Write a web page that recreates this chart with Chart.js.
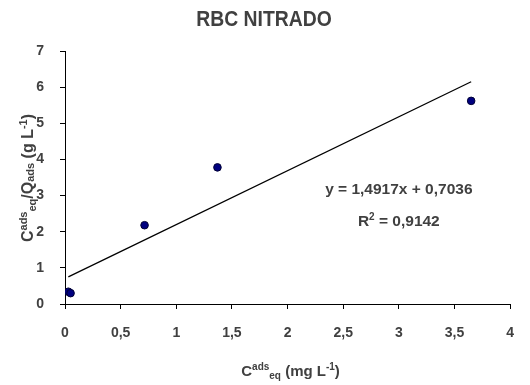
<!DOCTYPE html>
<html>
<head>
<meta charset="utf-8">
<script src="https://cdn.jsdelivr.net/npm/chart.js@4/dist/chart.umd.min.js"></script>
<style>
  body { margin: 0; background: #fff; }
  #box { width: 530px; height: 385px; }
</style>
</head>
<body>
<div id="box"><canvas id="grafico" width="530" height="385"></canvas></div>
<script>
  // dados
  const cEq = [0.03, 0.05, 0.715, 1.37, 3.65];
  const razaoCQ = [0.34, 0.30, 2.18, 3.78, 5.62];
  const xTicks = [0, 0.5, 1, 1.5, 2, 2.5, 3, 3.5, 4];
  const yTicks = [0, 1, 2, 3, 4, 5, 6, 7];
  // linha de tendencia (equacao do grafico)
  const inclinacao = 1.4917;
  const intercepto = 0.7036;
  const r2 = 0.9142;

  const corTexto = '#404040';
  const fonte = '"Liberation Sans", Arial, sans-serif';
  const virgula = v => String(v).replace('.', ',');

  const xMin = Math.min(...cEq), xMax = Math.max(...cEq);
  const tendencia = [
    { x: xMin, y: inclinacao * xMin + intercepto },
    { x: xMax, y: inclinacao * xMax + intercepto }
  ];

  /* desenha texto com sobrescrito / subscrito: partes = [texto, tamanho, deslocamento] */
  function textoRico(ctx, partes, x, y, rot, sx) {
    let larg = 0;
    partes.forEach(p => {
      ctx.font = 'bold ' + p[1] + 'px ' + fonte;
      larg += ctx.measureText(p[0]).width;
    });
    ctx.save();
    ctx.translate(x, y);
    if (rot) ctx.rotate(rot);
    ctx.scale(sx || 1, 1);
    ctx.fillStyle = corTexto;
    ctx.textAlign = 'left';
    ctx.textBaseline = 'alphabetic';
    let cx = -larg / 2;
    partes.forEach(p => {
      ctx.font = 'bold ' + p[1] + 'px ' + fonte;
      ctx.fillText(p[0], cx, p[2]);
      cx += ctx.measureText(p[0]).width;
    });
    ctx.restore();
  }

  const textos = {
    id: 'textos',
    afterDraw(chart) {
      const ctx = chart.ctx;
      const xs = chart.scales.x, ys = chart.scales.y;
      // titulo
      textoRico(ctx, [['RBC NITRADO', 22, 0]], 264, 26, 0, 0.88);
      // titulo eixo x
      textoRico(ctx, [['C', 15, 0], ['ads', 10, -6], ['eq', 10, 3], [' (mg L', 15, 0], ['-1', 10, -6], [')', 15, 0]],
        (xs.left + xs.right) / 2 + 3, 376);
      // titulo eixo y
      textoRico(ctx, [['C', 16, 0], ['ads', 11, -6], ['eq', 11, 3], ['/Q', 16, 0], ['ads', 11, 1], [' (g L', 16, 0], ['-1', 11, -6], [')', 16, 0]],
        33, 178, -Math.PI / 2);
      // equacao
      const ex = xs.getPixelForValue(3.0);
      textoRico(ctx, [['y = ' + virgula(inclinacao) + 'x + ' + virgula(intercepto), 15.5, 0]], ex, ys.getPixelForValue(3.04));
      textoRico(ctx, [['R', 15.5, 0], ['2', 10, -6], [' = ' + virgula(r2), 15.5, 0]], ex, ys.getPixelForValue(2.155));
    }
  };

  const eixo = (ticks, padding) => ({
    type: 'linear',
    min: ticks[0],
    max: ticks[ticks.length - 1],
    afterBuildTicks: s => { s.ticks = ticks.map(v => ({ value: v })); },
    border: { display: true, color: '#000', width: 1 },
    grid: { display: true, drawOnChartArea: false, drawTicks: true, tickLength: 5, color: '#000' },
    ticks: {
      padding: padding,
      color: corTexto,
      font: { family: fonte, size: 14, weight: 'bold' },
      callback: v => virgula(v),
      autoSkip: false,
      maxRotation: 0
    }
  });

  document.addEventListener('DOMContentLoaded', () => {
    const ctx = document.getElementById('grafico').getContext('2d');
    const escX = eixo(xTicks, 16);
    escX.position = 'bottom';
    escX.afterFit = s => { s.height = 81; };
    const escY = eixo(yTicks, 16);
    escY.position = 'left';
    escY.afterFit = s => { s.width = 65; };

    new Chart(ctx, {
      type: 'scatter',
      data: {
        datasets: [{
            label: 'RBC nitrado',
            data: cEq.map((x, i) => ({ x: x, y: razaoCQ[i] })),
            backgroundColor: '#000080',
            borderColor: '#000033',
            borderWidth: 1,
            pointRadius: 3.8
          },
          {
            label: 'Linear',
            data: tendencia,
            showLine: true,
            borderColor: '#000',
            borderWidth: 1.3,
            pointRadius: 0
          }
        ]
      },
      options: {
        responsive: false,
        devicePixelRatio: 1,
        animation: false,
        layout: { padding: { top: 51, right: 17, left: 0, bottom: 0 } },
        scales: { x: escX, y: escY },
        plugins: {
          legend: { display: false },
          title: { display: false },
          tooltip: { enabled: false }
        }
      },
      plugins: [textos]
    });
  });
</script>
</body>
</html>
